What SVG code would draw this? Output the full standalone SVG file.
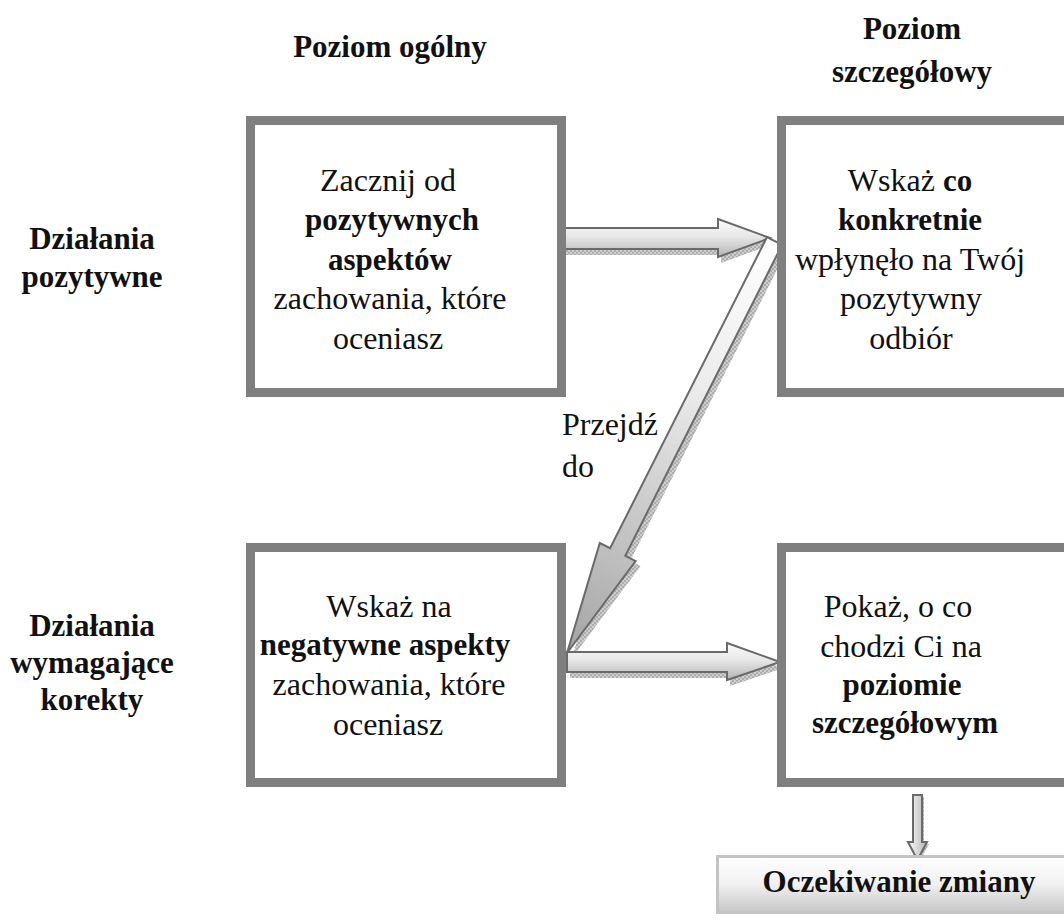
<svg xmlns="http://www.w3.org/2000/svg" width="1064" height="923" viewBox="0 0 1064 923">
  <defs>
    <style>
      text { font-family: "Liberation Serif", "Times New Roman", serif; font-size: 32px; fill: #111; }
      .c { text-anchor: middle; }
      .b { font-weight: bold; font-size: 31px; }
      .box { fill: #ffffff; stroke: #7f7f7f; stroke-width: 9; }
      .arrow { stroke: #6a6a6a; stroke-width: 2; stroke-linejoin: miter; }
      .shadow { fill: url(#stipple); stroke: none; }
    </style>
    <linearGradient id="gradH" x1="0" y1="0" x2="0" y2="1">
      <stop offset="0" stop-color="#fbfbfb"/>
      <stop offset="0.45" stop-color="#e8e8e8"/>
      <stop offset="1" stop-color="#b4b4b4"/>
    </linearGradient>
    <linearGradient id="gradV" x1="0" y1="0" x2="1" y2="0">
      <stop offset="0" stop-color="#fbfbfb"/>
      <stop offset="1" stop-color="#b4b4b4"/>
    </linearGradient>
    <linearGradient id="gradDiag" gradientUnits="userSpaceOnUse" x1="775" y1="241" x2="567" y2="653">
      <stop offset="0" stop-color="#ffffff"/>
      <stop offset="0.35" stop-color="#ececec"/>
      <stop offset="1" stop-color="#a4a4a4"/>
    </linearGradient>
    <linearGradient id="gradBox" x1="0" y1="0" x2="0" y2="1">
      <stop offset="0" stop-color="#ffffff"/>
      <stop offset="0.5" stop-color="#f0f0f0"/>
      <stop offset="1" stop-color="#c6c6c6"/>
    </linearGradient>
    <pattern id="stipple" patternUnits="userSpaceOnUse" width="4" height="4">
      <rect width="4" height="4" fill="#cdcdcd"/>
      <rect width="2" height="2" fill="#adadad"/>
      <rect x="2" y="2" width="2" height="2" fill="#adadad"/>
    </pattern>
  </defs>

  <rect width="1064" height="923" fill="#ffffff"/>

  <!-- column and row headings -->
  <g id="headings">
    <text class="c b" x="390" y="57">Poziom ogólny</text>
    <text class="c b" x="912" y="39">Poziom</text>
    <text class="c b" x="912" y="82">szczegółowy</text>
    <text class="c b" x="92" y="249">Działania</text>
    <text class="c b" x="92" y="287">pozytywne</text>
    <text class="c b" x="92" y="636">Działania</text>
    <text class="c b" x="92" y="673">wymagające</text>
    <text class="c b" x="92" y="710">korekty</text>
  </g>

  <!-- connectors -->
  <g id="connectors">
    <!-- general positive -> detailed positive -->
    <polygon class="shadow" points="561,234 721,234 721,225 773,244 721,263 721,255 561,255"/>
    <polygon class="arrow" fill="url(#gradH)" points="558,228 718,228 718,219 770,238 718,257 718,249 558,249"/>

    <!-- detailed positive -> general negative (Przejdź do) -->
    <polygon class="shadow" points="771.9,242.2 787.1,249.8 630.3,560.8 640.6,566.0 572,658 604.8,548.0 615.1,553.2"/>
    <polygon class="arrow" fill="url(#gradDiag)" points="766.9,237.2 782.1,244.8 625.3,555.8 635.6,561.0 567,653 599.8,543.0 610.1,548.2"/>

    <!-- general negative -> detailed negative -->
    <polygon class="shadow" points="570,658 730,658 730,649 783,668 730,686 730,678 570,678"/>
    <polygon class="arrow" fill="url(#gradH)" points="567,652 727,652 727,643 780,662 727,680 727,672 567,672"/>

    <!-- detailed negative -> expected change -->
    <polygon class="shadow" points="915,797 924,797 924,844 929,844 919.5,862 910,844 915,844"/>
    <polygon class="arrow" fill="url(#gradV)" stroke-width="1.5" points="913,795 922,795 922,842 927,842 917.5,860 908,842 913,842"/>
  </g>

  <text x="562" y="435">Przejdź</text>
  <text x="562" y="477">do</text>

  <!-- general level, positive actions -->
  <g id="node-general-positive">
    <rect class="box" x="250.5" y="120.5" width="311" height="272"/>
    <text class="c" x="388" y="191">Zacznij od</text>
    <text class="c b" x="392" y="230">pozytywnych</text>
    <text class="c b" x="390" y="270">aspektów</text>
    <text class="c" x="390" y="309">zachowania, które</text>
    <text class="c" x="388" y="349">oceniasz</text>
  </g>

  <!-- detailed level, positive actions -->
  <g id="node-detailed-positive">
    <rect class="box" x="781.5" y="120.5" width="300" height="272"/>
    <text class="c" x="910" y="191">Wskaż <tspan class="b">co</tspan></text>
    <text class="c b" x="910" y="230">konkretnie</text>
    <text class="c" x="910" y="270">wpłynęło na Twój</text>
    <text class="c" x="911" y="309">pozytywny</text>
    <text class="c" x="911" y="349">odbiór</text>
  </g>

  <!-- general level, corrective actions -->
  <g id="node-general-negative">
    <rect class="box" x="250.5" y="547.5" width="311" height="235"/>
    <text class="c" x="389" y="617">Wskaż na</text>
    <text class="c b" x="385" y="655">negatywne aspekty</text>
    <text class="c" x="389" y="695">zachowania, które</text>
    <text class="c" x="388" y="735">oceniasz</text>
  </g>

  <!-- detailed level, corrective actions -->
  <g id="node-detailed-negative">
    <rect class="box" x="781.5" y="547.5" width="300" height="235"/>
    <text class="c" x="898" y="617">Pokaż, o co</text>
    <text class="c" x="901" y="657">chodzi Ci na</text>
    <text class="c b" x="902" y="695">poziomie</text>
    <text class="c b" x="905" y="733">szczegółowym</text>
  </g>

  <!-- expected outcome -->
  <g id="node-expected-change">
    <rect x="717.5" y="856.5" width="360" height="56" fill="url(#gradBox)" stroke="#c4c4c4" stroke-width="3"/>
    <text class="c b" x="899" y="892">Oczekiwanie zmiany</text>
  </g>
</svg>
